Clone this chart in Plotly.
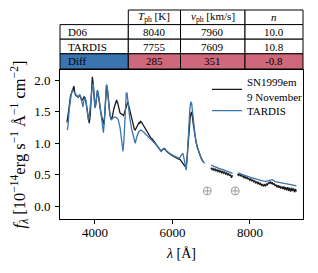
import plotly.graph_objects as go

# ---------------- data ----------------
obs_wave = [3280, 3290, 3300, 3330, 3370, 3400, 3440, 3460, 3480, 3510, 3540, 3570, 3600, 3630,
            3660, 3690, 3720, 3750, 3780, 3810, 3840, 3855, 3880, 3900, 3920, 3935, 3955, 3980,
            4000, 4020, 4045, 4065, 4090, 4120, 4150, 4180, 4210, 4235, 4260, 4280, 4300, 4320,
            4350, 4390, 4420, 4450, 4490, 4530, 4560, 4590, 4620, 4650, 4700, 4740, 4780, 4820,
            4850, 4880, 4920, 4960, 5000, 5020, 5040, 5060, 5080, 5100, 5120, 5140, 5160, 5180,
            5200, 5220, 5240, 5260, 5280, 5300, 5320, 5340, 5360, 5380, 5400, 5425, 5450, 5475,
            5500, 5525, 5550, 5575, 5600, 5650, 5700, 5750, 5800, 5850, 5900, 5950, 6000, 6050,
            6100, 6150, 6200, 6250, 6300, 6340, 6370, 6400, 6430, 6460, 6490, 6510, 6540, 6570,
            6610, 6650, 6700, 6750, 6800,
            None,
            6990, 7025, 7050, 7075, 7100, 7125, 7150, 7175, 7200, 7225, 7250, 7275, 7300, 7325,
            7350, 7375, 7400, 7425, 7450, 7475, 7500, 7525, 7550,
            None,
            7680, 7700, 7725, 7750, 7775, 7800, 7825, 7850, 7875, 7900, 7925, 7950, 7975, 8000,
            8025, 8050, 8075, 8100, 8125, 8150, 8175, 8200, 8225, 8250, 8275, 8300, 8325, 8350,
            8375, 8400, 8425, 8450, 8475, 8500, 8525, 8550, 8575, 8600, 8625, 8650, 8675, 8700,
            8725, 8750, 8775, 8800, 8825, 8850, 8875, 8900, 8925, 8950, 8975, 9000, 9025, 9050,
            9075, 9100, 9125, 9150, 9175, 9200]
obs_flux = [1.33, 1.40, 1.38, 1.55, 1.75, 1.80, 1.88, 1.91, 1.80, 1.76, 1.75, 1.73, 1.77, 1.74,
            1.68, 1.70, 1.74, 1.72, 1.62, 1.48, 1.36, 1.32, 1.45, 1.75, 1.98, 2.06, 1.95, 1.70,
            1.58, 1.60, 1.78, 1.84, 1.76, 1.60, 1.50, 1.42, 1.33, 1.30, 1.50, 1.78, 1.90, 1.88,
            1.68, 1.45, 1.38, 1.42, 1.55, 1.66, 1.69, 1.64, 1.55, 1.48, 1.46, 1.44, 1.52, 1.62,
            1.66, 1.58, 1.48, 1.34, 1.24, 1.22, 1.21, 1.23, 1.25, 1.29, 1.30, 1.33, 1.32, 1.35,
            1.34, 1.32, 1.30, 1.28, 1.25, 1.23, 1.20, 1.19, 1.16, 1.15, 1.12, 1.10, 1.08, 1.07,
            1.04, 1.03, 1.01, 0.99, 0.97, 0.92, 0.88, 0.90, 0.91, 0.87, 0.84, 0.82, 0.80, 0.78,
            0.77, 0.75, 0.74, 0.70, 0.65, 0.62, 0.70, 0.95, 1.25, 1.42, 1.50, 1.45, 1.30, 1.15,
            1.02, 0.92, 0.82, 0.75, 0.70,
            None,
            0.61, 0.58, 0.60, 0.57, 0.59, 0.56, 0.58, 0.55, 0.57, 0.54, 0.56, 0.53, 0.55, 0.52,
            0.54, 0.51, 0.53, 0.49, 0.52, 0.48, 0.50, 0.45, 0.49,
            None,
            0.51, 0.49, 0.51, 0.48, 0.50, 0.47, 0.48, 0.45, 0.47, 0.44, 0.46, 0.43, 0.44, 0.41,
            0.43, 0.40, 0.42, 0.38, 0.40, 0.37, 0.39, 0.35, 0.38, 0.34, 0.36, 0.33, 0.35, 0.31,
            0.34, 0.32, 0.35, 0.33, 0.37, 0.36, 0.39, 0.35, 0.38, 0.34, 0.36, 0.32, 0.34, 0.30,
            0.33, 0.29, 0.32, 0.28, 0.31, 0.27, 0.31, 0.26, 0.30, 0.25, 0.30, 0.24, 0.29, 0.23,
            0.29, 0.24, 0.28, 0.22, 0.27, 0.23]

model_wave = [3290, 3310, 3340, 3370, 3400, 3430, 3460, 3490, 3530, 3570, 3610, 3640, 3670, 3690,
              3710, 3740, 3770, 3800, 3828, 3850, 3880, 3910, 3940, 3960, 3985, 4005, 4025, 4050,
              4070, 4100, 4130, 4160, 4190, 4220, 4245, 4270, 4295, 4315, 4345, 4380, 4420, 4460,
              4500, 4550, 4600, 4650, 4690, 4725, 4750, 4780, 4810, 4830, 4860, 4900, 4950, 5000,
              5040, 5080, 5130, 5180, 5220, 5270, 5320, 5380, 5440, 5500, 5560, 5620, 5680, 5715,
              5760, 5800, 5850, 5900, 5950, 6000, 6060, 6120, 6180, 6240, 6270, 6300, 6330, 6357,
              6390, 6420, 6450, 6475, 6495, 6520, 6550, 6590, 6630, 6680, 6730, 6780, 6830,
              None,
              7000, 7100, 7200, 7300, 7400, 7500, 7555,
              None,
              7684, 7800, 7900, 8000, 8100, 8200, 8300, 8400, 8500, 8585, 8650, 8750, 8850, 8950,
              9050, 9150, 9200]
model_flux = [1.21, 1.30, 1.55, 1.72, 1.82, 1.85, 1.82, 1.78, 1.76, 1.74, 1.77, 1.73, 1.60, 1.58,
              1.66, 1.72, 1.68, 1.55, 1.37, 1.40, 1.60, 1.82, 1.95, 1.93, 1.72, 1.56, 1.65, 1.82,
              1.85, 1.75, 1.58, 1.45, 1.28, 1.17, 1.35, 1.70, 1.93, 1.92, 1.70, 1.48, 1.37, 1.40,
              1.42, 1.41, 1.38, 1.25, 1.05, 0.87, 1.05, 1.50, 1.80, 1.80, 1.60, 1.40, 1.22, 1.08,
              1.00, 1.10, 1.18, 1.21, 1.20, 1.17, 1.14, 1.10, 1.06, 1.03, 0.99, 0.95, 0.90, 0.87,
              0.91, 0.92, 0.88, 0.85, 0.83, 0.81, 0.79, 0.77, 0.76, 0.82, 0.84, 0.76, 0.62, 0.57,
              0.85, 1.25, 1.55, 1.66, 1.64, 1.50, 1.30, 1.10, 0.97, 0.87, 0.78, 0.72, 0.68,
              None,
              0.65, 0.62, 0.60, 0.58, 0.56, 0.53, 0.52,
              None,
              0.53, 0.50, 0.48, 0.46, 0.44, 0.42, 0.40, 0.39, 0.41, 0.42, 0.39, 0.38, 0.36, 0.35,
              0.34, 0.33, 0.32]

telluric_wave = [6900, 7620]
telluric_level = [0.24, 0.24]

row_labels = ["D06", "TARDIS", "Diff"]
col_headers = ["<i>T</i><sub>ph</sub> [K]", "<i>v</i><sub>ph</sub> [km/s]", "<i>n</i>"]
tph_vals = ["8040", "7755", "285"]
vph_vals = ["7960", "7609", "351"]
n_vals = ["10.0", "10.8", "-0.8"]

x_ticks = [4000, 6000, 8000]
y_ticks = [0.0, 0.5, 1.0, 1.5, 2.0]

# ---------------- styling ----------------
FONT = "Liberation Serif"
BLACK = "#1a1a1a"
BLUE = "#3b75af"
PINK = "#d0687b"

# the page body adds an 8 px margin; work in window pixels and subtract it
OFF = 8
WIN_W, WIN_H = 318, 273
W, H = WIN_W - OFF, WIN_H - OFF
# plot frame in window pixels
FX0, FX1, FY0, FY1 = 60, 303, 70, 219
L, R, T, B = FX0 - OFF, W - (FX1 - OFF), FY0 - OFF, H - (FY1 - OFF)
pw, ph = FX1 - FX0, FY1 - FY0


def px2x(p):
    return (p - FX0) / pw


def py2y(p):
    return (FY1 - p) / ph


fig = go.Figure()
fig.add_trace(go.Scatter(x=obs_wave, y=obs_flux, mode="lines", name="SN1999em<br>9 November",
                         line=dict(color=BLACK, width=1.3), connectgaps=False, legend="legend"))
fig.add_trace(go.Scatter(x=model_wave, y=model_flux, mode="lines", name="TARDIS",
                         line=dict(color=BLUE, width=1.3), connectgaps=False, legend="legend2"))
fig.add_trace(go.Scatter(x=telluric_wave, y=telluric_level, mode="markers", showlegend=False,
                         marker=dict(symbol="circle-cross-open", size=8, color="#8c8c8c",
                                     line=dict(width=0.8, color="#8c8c8c"))))

# ---------------- table ----------------
col_px = [60, 128.3, 180.5, 245, 303]
row_px = [10, 24.6, 39.2, 53.8, 69]
shapes = []
annotations = []
cols_vals = [tph_vals, vph_vals, n_vals]
for j, head in enumerate(col_headers):
    x0, x1 = col_px[j + 1], col_px[j + 2]
    shapes.append(dict(type="rect", xref="paper", yref="paper", x0=px2x(x0), x1=px2x(x1),
                       y0=py2y(row_px[1]), y1=py2y(row_px[0]), line=dict(color="black", width=1),
                       fillcolor="white", layer="above"))
    annotations.append(dict(xref="paper", yref="paper", x=px2x((x0 + x1) / 2),
                            y=py2y((row_px[0] + row_px[1]) / 2), text=head, showarrow=False,
                            font=dict(family=FONT, size=11, color="black"),
                            xanchor="center", yanchor="middle"))
for i, lab in enumerate(row_labels):
    y0p, y1p = row_px[i + 1], row_px[i + 2]
    is_diff = lab == "Diff"
    shapes.append(dict(type="rect", xref="paper", yref="paper", x0=px2x(col_px[0]), x1=px2x(col_px[1]),
                       y0=py2y(y1p), y1=py2y(y0p), line=dict(color="black", width=1),
                       fillcolor=BLUE if is_diff else "white", layer="above"))
    annotations.append(dict(xref="paper", yref="paper", x=px2x(col_px[0] + 6),
                            y=py2y((y0p + y1p) / 2), text=lab, showarrow=False,
                            font=dict(family=FONT, size=11, color="black"),
                            xanchor="left", yanchor="middle"))
    for j in range(3):
        x0, x1 = col_px[j + 1], col_px[j + 2]
        shapes.append(dict(type="rect", xref="paper", yref="paper", x0=px2x(x0), x1=px2x(x1),
                           y0=py2y(y1p), y1=py2y(y0p), line=dict(color="black", width=1),
                           fillcolor=PINK if is_diff else "white", layer="above"))
        annotations.append(dict(xref="paper", yref="paper", x=px2x((x0 + x1) / 2),
                                y=py2y((y0p + y1p) / 2), text=cols_vals[j][i], showarrow=False,
                                font=dict(family=FONT, size=11, color="black"),
                                xanchor="center", yanchor="middle"))

axis_common = dict(showline=True, linecolor="black", linewidth=1, mirror=True, ticks="outside",
                   ticklen=4, tickwidth=1, tickcolor="black", showgrid=False, zeroline=False,
                   automargin=False,
                   tickfont=dict(family=FONT, size=13, color="black"))

legend_common = dict(xanchor="left", yanchor="middle", bgcolor="rgba(0,0,0,0)", borderwidth=0,
                     font=dict(family=FONT, size=11, color="black"))

fig.update_layout(
    width=W, height=H,
    margin=dict(l=L, r=R, t=T, b=B, pad=0, autoexpand=False),
    paper_bgcolor="white", plot_bgcolor="white",
    font=dict(family=FONT, color="black"),
    showlegend=True,
    legend=dict(x=px2x(207), y=py2y(89.5), **legend_common),
    legend2=dict(x=px2x(207), y=py2y(110.7), **legend_common),
    xaxis=dict(range=[3100, 9370], tickvals=x_ticks, ticktext=[str(v) for v in x_ticks],
               ticklabelstandoff=-3,
               title=dict(text="<i>λ</i> [Å]", font=dict(family=FONT, size=14), standoff=9),
               **axis_common),
    yaxis=dict(range=[-0.207, 2.167], tickvals=y_ticks, ticktext=[f"{v:.1f}" for v in y_ticks],
               ticklabelstandoff=2,
               title=dict(text="<i>f</i><sub><i>λ</i></sub> [10<sup>−14</sup>erg s<sup>−1</sup> Å<sup>−1</sup> cm<sup>−2</sup>]",
                          font=dict(family=FONT, size=16.5), standoff=6),
               **axis_common),
    shapes=shapes,
    annotations=annotations,
)

fig.write_html("out.html")
